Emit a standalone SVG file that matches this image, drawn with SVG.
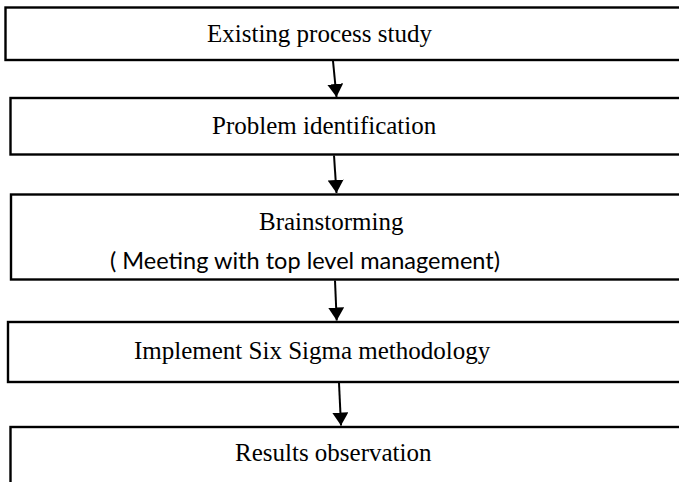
<svg xmlns="http://www.w3.org/2000/svg" width="679" height="482" viewBox="0 0 679 482">
<defs>
<marker id="ah" viewBox="0 0 13 16" refX="13" refY="8" markerWidth="13" markerHeight="16" orient="auto" markerUnits="userSpaceOnUse">
<path d="M0,0 L13,8 L0,16 z" fill="#000"/>
</marker>
<style>
.box{fill:#fff;stroke:#000;stroke-width:2.4}
.t{font-family:"Liberation Serif","Times New Roman",serif;font-size:25px;fill:#000}
.c{font-family:Lato,"Noto Sans","Liberation Sans",sans-serif;font-size:24px;fill:#000}
.arr{stroke:#000;stroke-width:2;fill:none;marker-end:url(#ah)}
</style>
</defs>
<rect width="679" height="482" fill="#fff"/>
<g id="n1"><rect class="box" x="5.5" y="7.5" width="690" height="52.5"/><text class="t" x="207" y="42">Existing process study</text></g>
<g id="n2"><rect class="box" x="10.5" y="98" width="690" height="56.5"/><text class="t" x="212" y="134">Problem identification</text></g>
<g id="n3"><rect class="box" x="11" y="194.5" width="690" height="85"/><text class="t" x="259" y="230">Brainstorming</text><text class="c" x="110" y="269" textLength="390" lengthAdjust="spacingAndGlyphs">( Meeting with top level management)</text></g>
<g id="n4"><rect class="box" x="8" y="322" width="690" height="60"/><text class="t" x="134" y="359">Implement Six Sigma methodology</text></g>
<g id="n5"><rect class="box" x="10.5" y="427" width="690" height="80"/><text class="t" x="235" y="461">Results observation</text></g>
<g id="connectors">
<line class="arr" x1="333" y1="61" x2="336.5" y2="97"/>
<line class="arr" x1="334" y1="155.5" x2="336.5" y2="193"/>
<line class="arr" x1="335" y1="280.5" x2="336.7" y2="320.5"/>
<line class="arr" x1="339" y1="383" x2="341" y2="425.5"/>
</g>
</svg>
